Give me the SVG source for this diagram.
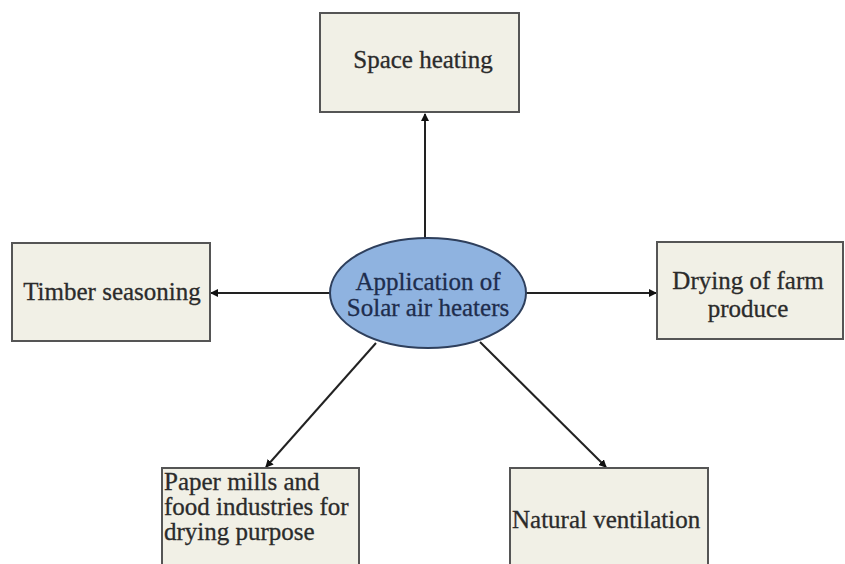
<svg xmlns="http://www.w3.org/2000/svg" width="845" height="564" viewBox="0 0 845 564">
<style>
.box{fill:#f1f0e6;stroke:#555;stroke-width:2}
.t{font-family:"Liberation Serif","Times New Roman",serif;font-size:25px;fill:#2b2b2b;stroke:#2b2b2b;stroke-width:0.3}
.c{text-anchor:middle}
.e{fill:#8fb3e0;stroke:#2e3f5c;stroke-width:2}
.et{font-family:"Liberation Serif","Times New Roman",serif;font-size:25px;fill:#1e2d4d;stroke:#1e2d4d;stroke-width:0.3;text-anchor:middle}
.ln{stroke:#222;stroke-width:2;fill:none;marker-end:url(#ah)}
</style>
<defs>
<marker id="ah" markerWidth="8" markerHeight="8" refX="7" refY="4" orient="auto" markerUnits="userSpaceOnUse">
<path d="M0,0 L8,4 L0,8 Z" fill="#111"/>
</marker>
</defs>
<rect width="845" height="564" fill="#fff"/>
<g id="connectors">
<line class="ln" x1="425" y1="238" x2="425" y2="114"/>
<line class="ln" x1="330" y1="293" x2="211" y2="293"/>
<line class="ln" x1="526" y1="293" x2="656" y2="293"/>
<line class="ln" x1="376" y1="343" x2="266" y2="467"/>
<line class="ln" x1="480" y1="342" x2="606" y2="467"/>
</g>
<g id="space-heating">
<rect class="box" x="320" y="13" width="199" height="99"/>
<text class="t c" x="423" y="68">Space heating</text>
</g>
<g id="timber-seasoning">
<rect class="box" x="12" y="243" width="198" height="98"/>
<text class="t c" x="112" y="300">Timber seasoning</text>
</g>
<g id="center">
<ellipse class="e" cx="428" cy="293" rx="98" ry="55"/>
<text class="et" x="428" y="290">Application of</text>
<text class="et" x="428" y="316">Solar air heaters</text>
</g>
<g id="drying-farm">
<rect class="box" x="657" y="242" width="186" height="97"/>
<text class="t c" x="748" y="289">Drying of farm</text>
<text class="t c" x="748" y="317">produce</text>
</g>
<g id="paper-mills">
<rect class="box" x="162" y="468" width="197" height="110"/>
<text class="t" x="164" y="490">Paper mills and</text>
<text class="t" x="164" y="515">food industries for</text>
<text class="t" x="164" y="540">drying purpose</text>
</g>
<g id="natural-ventilation">
<rect class="box" x="510" y="468" width="198" height="110"/>
<text class="t" x="512" y="528">Natural ventilation</text>
</g>
</svg>
